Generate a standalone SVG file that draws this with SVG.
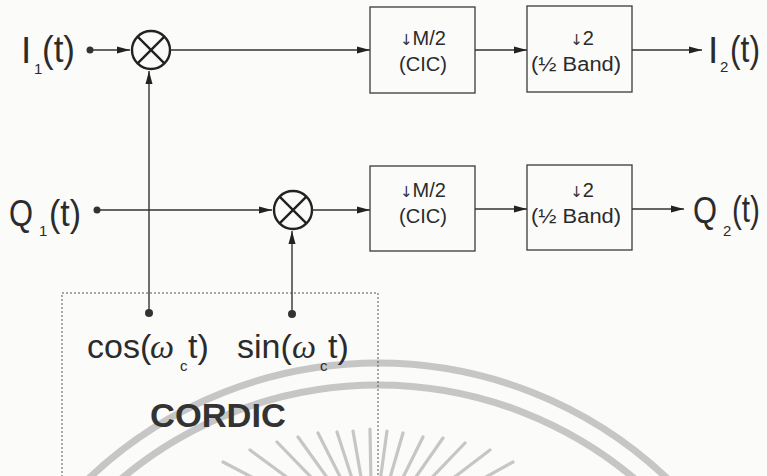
<svg xmlns="http://www.w3.org/2000/svg" width="767" height="476" viewBox="0 0 767 476">
<style>
text{font-family:"Liberation Sans",Arial,sans-serif;fill:#2b2b2b}
.big{font-size:37px}
.sub{font-size:15px}
.mid{font-size:34px}
.box{fill:none;stroke:#3a3a3a;stroke-width:1.3}
.bt{font-size:20px;text-anchor:middle}
.arr{font-family:"DejaVu Sans",sans-serif;font-size:15px;fill:#333}
.wire{fill:none;stroke:#333;stroke-width:1.4}
.mul{fill:none;stroke:#222;stroke-width:2.4}
.wm{fill:none;stroke:#c6c6c6;stroke-width:7}
.ray{stroke:#c6c6c6;stroke-width:3.2;stroke-linecap:round}
</style>
<defs>
<marker id="ah" markerWidth="14" markerHeight="8" refX="13" refY="4" orient="auto" markerUnits="userSpaceOnUse">
<path d="M0,0.5 L13,4 L0,7.5 z" fill="#222"/>
</marker>
</defs>
<rect width="767" height="476" fill="#fbfbfa"/>
<g id="watermark">
<circle class="wm" cx="378" cy="783" r="420"/>
<circle class="wm" cx="378" cy="783" r="398"/>
<line class="ray" x1="223" y1="462" x2="372" y2="540"/>
<line class="ray" x1="250" y1="450" x2="372" y2="540"/>
<line class="ray" x1="277" y1="442" x2="372" y2="540"/>
<line class="ray" x1="298" y1="437" x2="372" y2="540"/>
<line class="ray" x1="318" y1="433" x2="372" y2="540"/>
<line class="ray" x1="337" y1="432" x2="372" y2="540"/>
<line class="ray" x1="353" y1="431" x2="372" y2="540"/>
<line class="ray" x1="370" y1="429" x2="372" y2="540"/>
<line class="ray" x1="387" y1="431" x2="372" y2="540"/>
<line class="ray" x1="403" y1="433" x2="372" y2="540"/>
<line class="ray" x1="423" y1="437" x2="372" y2="540"/>
<line class="ray" x1="443" y1="438" x2="372" y2="540"/>
<line class="ray" x1="465" y1="443" x2="372" y2="540"/>
<line class="ray" x1="490" y1="450" x2="372" y2="540"/>
<line class="ray" x1="513" y1="462" x2="372" y2="540"/>
</g>
<g id="cordic">
<rect x="62" y="293" width="316" height="200" fill="none" stroke="#555" stroke-width="1" stroke-dasharray="2,2"/>
<text class="mid" x="87" y="358">cos(</text>
<text class="mid" x="150" y="358" style="font-family:'Liberation Serif',serif;font-style:italic">ω</text>
<text class="sub" x="180" y="371">c</text>
<text class="mid" x="188" y="358">t)</text>
<text class="mid" x="237" y="358">sin(</text>
<text class="mid" x="292" y="358" style="font-family:'Liberation Serif',serif;font-style:italic">ω</text>
<text class="sub" x="320" y="371">c</text>
<text class="mid" x="328" y="358">t)</text>
<text x="150" y="427" style="font-size:34px;font-weight:bold;fill:#333" textLength="136" lengthAdjust="spacingAndGlyphs">CORDIC</text>
<circle cx="149" cy="313" r="4" fill="#333"/>
<circle cx="292" cy="314" r="4" fill="#333"/>
</g>
<g id="I1">
<text class="big" x="21" y="63">I</text>
<text class="sub" x="34" y="74">1</text>
<text class="big" x="42" y="62" textLength="33" lengthAdjust="spacingAndGlyphs">(t)</text>
<circle cx="90" cy="50" r="3.5" fill="#333"/>
</g>
<g id="Q1">
<text class="big" x="9" y="226" textLength="24" lengthAdjust="spacingAndGlyphs">Q</text>
<text class="sub" x="39" y="236">1</text>
<text class="big" x="49" y="226" textLength="32" lengthAdjust="spacingAndGlyphs">(t)</text>
<circle cx="97" cy="210" r="3.5" fill="#333"/>
</g>
<g id="mul1">
<circle class="mul" cx="151" cy="50" r="19"/>
<path class="mul" d="M137.6,36.6 L164.4,63.4 M164.4,36.6 L137.6,63.4"/>
</g>
<g id="mul2">
<circle class="mul" cx="293" cy="210" r="19"/>
<path class="mul" d="M279.6,196.6 L306.4,223.4 M306.4,196.6 L279.6,223.4"/>
</g>
<g id="cicI">
<rect class="box" x="370" y="7" width="105" height="86"/>
<text class="bt" x="423" y="45"><tspan class="arr">↓&#xFE0E;</tspan>M/2</text>
<text class="bt" x="423" y="71" textLength="48" lengthAdjust="spacingAndGlyphs">(CIC)</text>
</g>
<g id="hbI">
<rect class="box" x="527" y="6" width="105" height="86"/>
<text class="bt" x="582" y="45"><tspan class="arr">↓&#xFE0E;</tspan>2</text>
<text class="bt" x="576" y="71" textLength="90" lengthAdjust="spacingAndGlyphs">(½ Band)</text>
</g>
<g id="cicQ">
<rect class="box" x="370" y="166" width="105" height="85"/>
<text class="bt" x="423" y="197"><tspan class="arr">↓&#xFE0E;</tspan>M/2</text>
<text class="bt" x="423" y="223" textLength="48" lengthAdjust="spacingAndGlyphs">(CIC)</text>
</g>
<g id="hbQ">
<rect class="box" x="527" y="165" width="105" height="85"/>
<text class="bt" x="582" y="197"><tspan class="arr">↓&#xFE0E;</tspan>2</text>
<text class="bt" x="576" y="223" textLength="90" lengthAdjust="spacingAndGlyphs">(½ Band)</text>
</g>
<g id="I2">
<text class="big" x="708" y="63">I</text>
<text class="sub" x="720" y="72">2</text>
<text class="big" x="730" y="62" textLength="30" lengthAdjust="spacingAndGlyphs">(t)</text>
</g>
<g id="Q2">
<text class="big" x="693" y="223" textLength="24" lengthAdjust="spacingAndGlyphs">Q</text>
<text class="sub" x="723" y="236">2</text>
<text class="big" x="732" y="222" textLength="28" lengthAdjust="spacingAndGlyphs">(t)</text>
</g>
<g id="connectors">
<line class="wire" x1="90" y1="50" x2="130" y2="50" marker-end="url(#ah)"/>
<line class="wire" x1="170" y1="50" x2="370" y2="50" marker-end="url(#ah)"/>
<line class="wire" x1="475" y1="50" x2="527" y2="50" marker-end="url(#ah)"/>
<line class="wire" x1="632" y1="50" x2="702" y2="50" marker-end="url(#ah)"/>
<line class="wire" x1="97" y1="210" x2="272" y2="210" marker-end="url(#ah)"/>
<line class="wire" x1="312" y1="210" x2="370" y2="210" marker-end="url(#ah)"/>
<line class="wire" x1="475" y1="209" x2="527" y2="209" marker-end="url(#ah)"/>
<line class="wire" x1="632" y1="209" x2="684" y2="209" marker-end="url(#ah)"/>
<line class="wire" x1="149" y1="313" x2="149" y2="71" marker-end="url(#ah)"/>
<line class="wire" x1="292" y1="314" x2="292" y2="231" marker-end="url(#ah)"/>
</g>
</svg>
